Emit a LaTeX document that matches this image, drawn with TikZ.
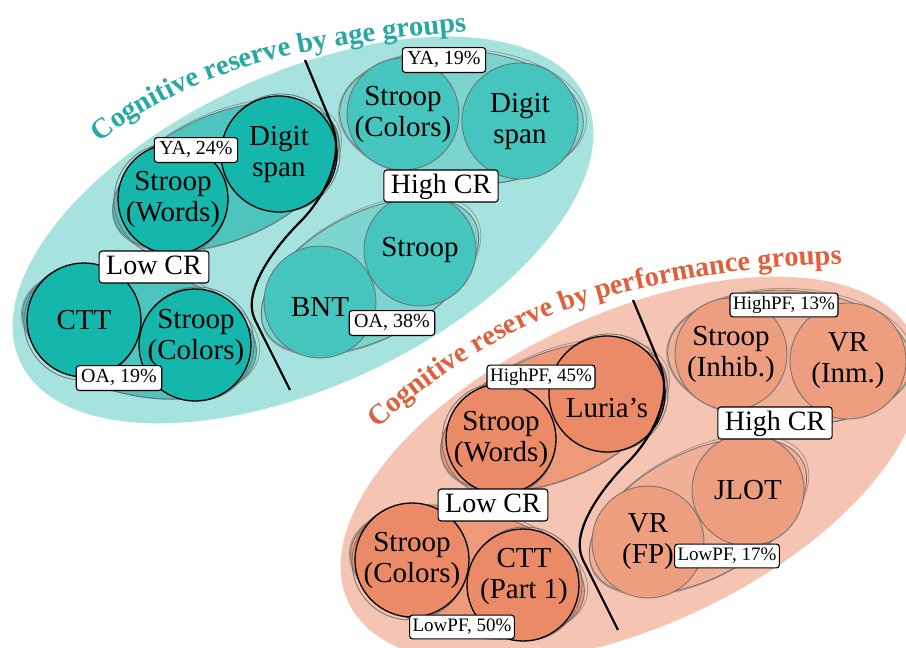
\documentclass[tikz,border=0pt]{standalone}
\usepackage{fontspec}
\setmainfont{Liberation Serif}
\usetikzlibrary{decorations.text}

\definecolor{tealBg}{HTML}{A6E3DF}
\definecolor{tealLowGrp}{HTML}{4DC5BE}
\definecolor{tealLowCirc}{HTML}{15B6AC}
\definecolor{tealHighGrp}{HTML}{7CD4CE}
\definecolor{tealHighCirc}{HTML}{46C4BE}
\definecolor{tealTitle}{HTML}{28A8A3}
\definecolor{orBg}{HTML}{F5C4B2}
\definecolor{orLowGrp}{HTML}{EC9A7A}
\definecolor{orLowCirc}{HTML}{EB8A67}
\definecolor{orHighGrp}{HTML}{F0B098}
\definecolor{orHighCirc}{HTML}{EC9E7E}
\definecolor{orTitle}{HTML}{E05F3C}
\definecolor{rim}{HTML}{6A6A6A}

\newcommand{\titlefont}{\fontsize{28.5}{30}\selectfont\bfseries}
\newcommand{\circfont}{\fontsize{29}{31}\selectfont}

% group ellipse: centre x, centre y, angle, x radius, y radius, fill colour
\newcommand{\grpell}[6]{%
  \fill[#6, rotate around={#3:(#1,#2)}] (#1,#2) ellipse [x radius=#4, y radius=#5];
  \draw[rimline, rotate around={#3:(#1,#2)}] (#1,#2) ellipse [x radius=#4, y radius=#5];
  \draw[rimline, opacity=0.5, rotate around={#3+1:(#1+1,#2-1)}] (#1+1,#2-1) ellipse [x radius=#4+2, y radius=#5+1];
}

\tikzset{
  rimline/.style={draw=rim, line width=0.9pt, draw opacity=0.85},
  lowc/.style={circle, draw=black, line width=1.3pt, inner sep=0pt, align=center, font=\circfont},
  highc/.style={circle, draw=rim, draw opacity=0.85, line width=0.9pt, inner sep=0pt, align=center, font=\circfont},
  ctext/.style={inner sep=0pt, align=center, font=\circfont},
  tag/.style={draw=black, line width=1.1pt, fill=white, rounded corners=3pt,
    inner xsep=5pt, inner ysep=3.2pt, text height=14pt, text depth=4.5pt,
    font=\fontsize{20}{22}\selectfont},
  pftag/.style={tag, inner xsep=3pt, inner ysep=3pt, text height=13.5pt, text depth=4.3pt,
    font=\fontsize{19}{21}\selectfont},
  crtag/.style={tag, inner xsep=7pt, inner ysep=3.5pt, text height=19.5pt, text depth=5.5pt,
    font=\fontsize{28}{30}\selectfont},
  divider/.style={draw=black, line width=2.2pt},
}

\begin{document}
\begin{tikzpicture}[x=1pt,y=-1pt]
\useasboundingbox (0,0) rectangle (906,648);
\fill[white] (0,0) rectangle (906,648);

% ---------------- age groups ----------------
\fill[tealBg, rotate around={25:(303,230)}] (303,230) ellipse [x radius=312, y radius=156];
\path[decorate, decoration={text along path, text align=center,
  text={|\titlefont\color{tealTitle}|Cognitive reserve by age groups}}]
  (88,152) -- (98,144) .. controls (150,100) and (230,66) .. (310,51)
  .. controls (370,40) and (420,35) .. (470,31) -- (482,30);

% low CR, young adults
\grpell{226}{176.5}{23}{120}{63}{tealLowGrp}
\draw[rimline] (171,200) circle [radius=57];
\draw[rimline] (281,153) circle [radius=59];
\node[lowc, fill=tealLowCirc, minimum size=110] (aSW) at (173,199) {Stroop\\(Words)};
\node[lowc, fill=tealLowCirc, minimum size=116] (aDS) at (279,154) {Digit\\span};
% low CR, older adults
\grpell{139.5}{332.5}{-12.7}{119}{63}{tealLowGrp}
\draw[rimline] (82,322) circle [radius=58];
\draw[rimline] (197,344) circle [radius=57];
\node[lowc, fill=tealLowCirc, minimum size=114] (aCTT) at (84,320) {CTT};
\node[lowc, fill=tealLowCirc, minimum size=112] (aSC) at (195,345) {};
\node[ctext] (aSCt) at (196,337) {Stroop\\(Colors)};
% high CR, young adults
\grpell{461.5}{117.5}{-3.4}{122}{67}{tealHighGrp}
\node[highc, fill=tealHighCirc, minimum size=112] (aSC2) at (403,114) {Stroop\\(Colors)};
\node[highc, fill=tealHighCirc, minimum size=116] (aDS2) at (520,121) {Digit\\span};
% high CR, older adults
\grpell{370}{276}{27.5}{118}{63}{tealHighGrp}
\node[highc, fill=tealHighCirc, minimum size=112] (aST) at (420,250) {Stroop};
\node[highc, fill=tealHighCirc, minimum size=112] (aBNT) at (320,302) {};
\node[ctext] (aBNTt) at (320,307) {BNT};

\draw[divider] (305,60) -- (332,125) .. controls (345,157) and (324.5,197.5) .. (300,222)
  .. controls (272,250) and (241.6,293) .. (255,320) -- (290,390);

\node[tag] (aYA24) at (196,150) {YA, 24\%};
\node[tag] (aOA19) at (119,378) {OA, 19\%};
\node[crtag] (aLow) at (154,267) {Low CR};
\node[tag] (aYA19) at (444,60) {YA, 19\%};
\node[crtag] (aHigh) at (441,186) {High CR};
\node[tag] (aOA38) at (392,323) {OA, 38\%};

% ---------------- performance groups ----------------
\fill[orBg, rotate around={25:(631,470)}] (631,470) ellipse [x radius=312, y radius=156];
\path[decorate, decoration={text along path, text align=center,
  text={|\titlefont\color{orTitle}|Cognitive reserve by performance groups}}]
  (365,439) -- (373,432) .. controls (430,381) and (500,328) .. (597,300)
  .. controls (680,276) and (760,266) .. (845,264) -- (858,263.5);

\begin{scope}[shift={(328,240)}]
  % low CR, high performance
  \grpell{226}{176.5}{23}{120}{63}{orLowGrp}
  \draw[rimline] (171,200) circle [radius=57];
  \draw[rimline] (281,153) circle [radius=59];
  \node[lowc, fill=orLowCirc, minimum size=110] (pSW) at (173,199) {Stroop\\(Words)};
  \node[lowc, fill=orLowCirc, minimum size=116] (pLU) at (279,154) {};
  \node[ctext] (pLUt) at (279,168) {Luria’s};
  % low CR, low performance
  \grpell{139.5}{332.5}{-12.7}{119}{63}{orLowGrp}
  \draw[rimline] (82,322) circle [radius=58];
  \draw[rimline] (197,344) circle [radius=57];
  \node[lowc, fill=orLowCirc, minimum size=114] (pSC) at (84,320) {Stroop\\(Colors)};
  \node[lowc, fill=orLowCirc, minimum size=112] (pCTT) at (195,345) {};
  \node[ctext] (pCTTt) at (196,336) {CTT\\(Part 1)};
  % high CR, high performance
  \grpell{461.5}{117.5}{-3.4}{122}{67}{orHighGrp}
  \node[highc, fill=orHighCirc, minimum size=112] (pSI) at (403,114) {Stroop\\(Inhib.)};
  \node[highc, fill=orHighCirc, minimum size=116] (pVRI) at (520,121) {VR\\(Inm.)};
  % high CR, low performance
  \grpell{370}{276}{27.5}{118}{63}{orHighGrp}
  \node[highc, fill=orHighCirc, minimum size=112] (pJL) at (420,250) {JLOT};
  \node[highc, fill=orHighCirc, minimum size=112] (pVRF) at (320,302) {VR\\(FP)};

  \draw[divider] (305,60) -- (332,125) .. controls (345,157) and (324.5,197.5) .. (300,222)
    .. controls (272,250) and (241.6,293) .. (255,320) -- (290,390);
\end{scope}

\node[pftag] (pH45) at (541,377) {HighPF, 45\%};
\node[pftag] (pL50) at (462,627) {LowPF, 50\%};
\node[crtag] (pLow) at (493,505) {Low CR};
\node[pftag] (pH13) at (784,305) {HighPF, 13\%};
\node[crtag] (pHigh) at (775,423) {High CR};
\node[pftag] (pL17) at (727,556) {LowPF, 17\%};
\end{tikzpicture}
\end{document}
